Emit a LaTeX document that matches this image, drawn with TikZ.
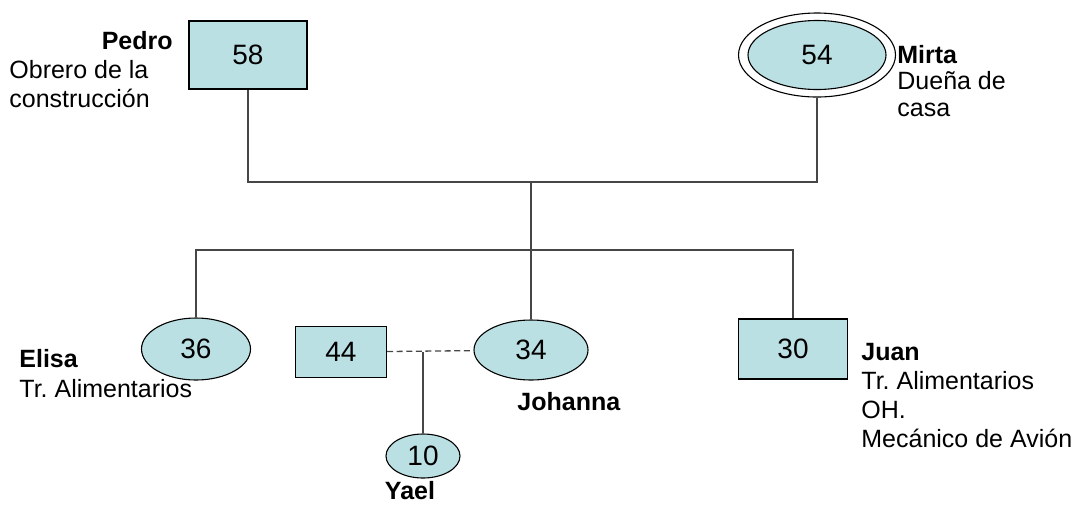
\documentclass[tikz,border=0pt]{standalone}
\usepackage{fontspec}
\setmainfont{Liberation Sans}
\frenchspacing
\usetikzlibrary{shapes.geometric}
\definecolor{celeste}{RGB}{187,224,227}
\definecolor{gristrazo}{RGB}{70,70,70}
\tikzset{
  caja/.style={draw, fill=celeste, line width=0.55pt, inner sep=0pt, font=\fontsize{14}{16}\selectfont},
  elipse/.style={caja, ellipse},
  nombre/.style={inner sep=0pt, font=\fontsize{12.5}{14.5}\selectfont\bfseries},
  texto/.style={inner sep=0pt, align=left, font=\fontsize{12.5}{14.5}\selectfont},
  rama/.style={draw=gristrazo, line width=0.65pt}
}

\begin{document}
\begin{tikzpicture}[x=0.5pt,y=-0.5pt]
\useasboundingbox (0,0) rectangle (1076,505);
% padres
\node[caja, minimum width=59pt, minimum height=34pt] (pedro) at (248,55) {58};
\node[ellipse, draw, line width=0.55pt, minimum width=78.5pt, minimum height=42pt] (mirtaext) at (817,55) {};
\node[elipse, minimum width=69pt, minimum height=34.5pt] (mirta) at (817,55) {54};
\node[nombre, anchor=base east] (npedro) at (173,49) {Pedro};
\node[texto, anchor=base west] (tpedro) at (9,107) {Obrero de la\\construcción};
\node[nombre, anchor=base west] (nmirta) at (897,63) {Mirta};
\node[texto, anchor=base west, font=\fontsize{12.5}{13.5}\selectfont] (tmirta) at (897,116) {Dueña de\\casa};
% hijos
\node[elipse, minimum width=54.5pt, minimum height=31pt] (elisa) at (196,349) {36};
\node[caja, minimum width=45.5pt, minimum height=25.5pt] (pareja) at (341,352) {44};
\node[elipse, minimum width=57pt, minimum height=30pt] (johanna) at (531,350) {34};
\node[caja, minimum width=54.5pt, minimum height=30pt] (juan) at (793,349) {30};
\node[elipse, minimum width=37pt, minimum height=22pt] (yael) at (423,456) {10};
\node[nombre, anchor=base west] (nelisa) at (19,367) {Elisa};
\node[texto, anchor=base west] (telisa) at (19,397) {Tr. Alimentarios};
\node[nombre, anchor=base west] (njohanna) at (517,410) {Johanna};
\node[nombre, anchor=base west] (njuan) at (861,360) {Juan};
\node[texto, anchor=base west] (tjuan) at (861,447) {Tr. Alimentarios\\OH.\\Mecánico de Avión};
\node[nombre, anchor=base] (nyael) at (410,499) {Yael};
% lineas
\coordinate (padres) at (531,182);
\coordinate (hijos) at (531,250);
\coordinate (union) at (423,352);
\draw[rama] (pedro) |- (padres) -| (mirtaext);
\draw[rama] (padres) -- (hijos);
\draw[rama] (elisa) |- (hijos) -| (juan);
\draw[rama] (hijos) -- (johanna);
\draw[rama, dash pattern=on 3pt off 1.8pt] (pareja) -- (johanna);
\draw[rama] (union) -- (yael);
\end{tikzpicture}
\end{document}
